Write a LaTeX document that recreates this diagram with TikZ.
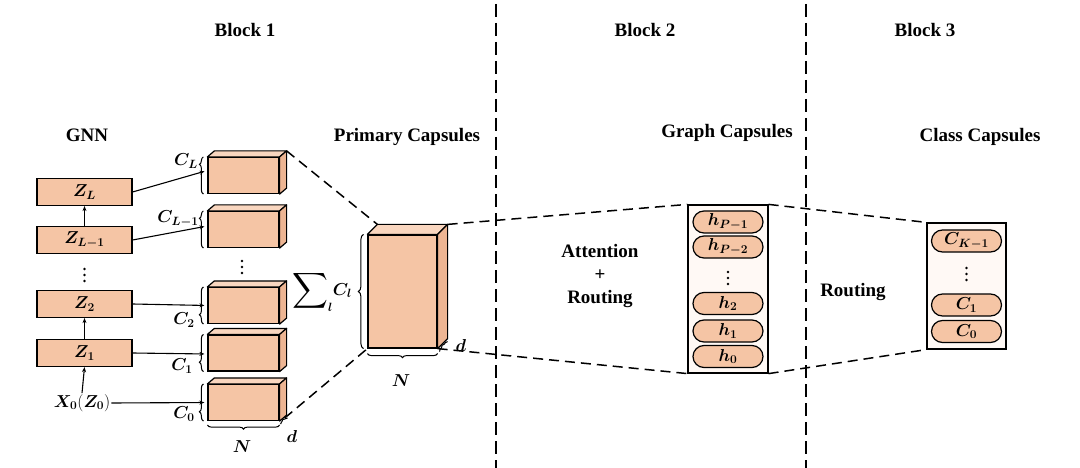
\documentclass[tikz,border=0pt]{standalone}
\usepackage{amsmath}
\usepackage{fontspec}
\setmainfont{Liberation Serif}
\usepackage{bm}
\usetikzlibrary{calc,decorations.pathreplacing,shapes.misc,arrows.meta}

\definecolor{peach}{HTML}{F5C5A5}
\definecolor{peachtop}{HTML}{F9D6BF}
\definecolor{peachside}{HTML}{EDB593}
\definecolor{capfill}{HTML}{FFF9F5}

\tikzset{
  title/.style={font=\fontsize{19}{23}\selectfont\bfseries},
  mlabel/.style={font=\fontsize{18}{21}\selectfont, inner sep=1pt},
  zbox/.style={draw, line width=1.2pt, fill=peach, minimum width=95pt, minimum height=27pt, inner sep=0pt, font=\fontsize{18}{21}\selectfont},
  face/.style={draw, line width=1.2pt, fill=peach, minimum width=71pt, minimum height=36pt, inner sep=0pt},
  bigface/.style={face, minimum width=69pt, minimum height=113pt},
  topface/.style={draw, line width=1.2pt, fill=peachtop, line join=round},
  sideface/.style={draw, line width=1.2pt, fill=peachside, line join=round},
  pill/.style={draw, line width=1.2pt, fill=peach, rounded rectangle, minimum width=70pt, minimum height=22pt, inner sep=0pt, font=\fontsize{18}{21}\selectfont},
  capbox/.style={draw, line width=1.2pt, fill=capfill, inner sep=0pt},
  conn/.style={line width=1.1pt, -{Stealth[length=5pt,width=4pt]}},
  zoomline/.style={line width=1.5pt, dash pattern=on 10pt off 6pt},
  sepline/.style={line width=1.8pt, dash pattern=on 13pt off 6pt},
  brc/.style={decorate, decoration={brace, amplitude=#1}, line width=1pt},
  brc/.default=4pt,
}

\newcommand\mycube[3]{%
  \draw[topface] (#1.north west) -- ++(#2,-#3) -- ($(#1.north east)+(#2,-#3)$) -- (#1.north east) -- cycle;
  \draw[sideface] (#1.north east) -- ++(#2,-#3) -- ($(#1.south east)+(#2,-#3)$) -- (#1.south east) -- cycle;
}
\newcommand\mydots[2]{%
  \fill (#1,#2-6) circle (1.4pt);
  \fill (#1,#2) circle (1.4pt);
  \fill (#1,#2+6) circle (1.4pt);
}

\begin{document}
\begin{tikzpicture}[x=1pt,y=-1pt]
\fill[white] (0,0) rectangle (1080,468);
\useasboundingbox (0,0) rectangle (1080,468);

% separators
\draw[sepline] (496,4) -- (496,468);
\draw[sepline] (806,4) -- (806,468);

% titles
\node[title] (b1) at (245,30) {Block 1};
\node[title] (b2) at (645,30) {Block 2};
\node[title] (b3) at (925,30) {Block 3};
\node[title] (tgnn) at (87,135) {GNN};
\node[title] (tprim) at (407,137) {Primary Capsules};
\node[title] (tgraph) at (727,133) {Graph Capsules};
\node[title] (tclass) at (980,137) {Class Capsules};

% GNN boxes
\node[zbox] (zL) at (84.5,192) {$\bm{Z}_{\bm{L}}$};
\node[zbox] (zL1) at (84.5,240) {$\bm{Z}_{\bm{L-1}}$};
\mydots{84.5}{275}
\node[zbox] (z2) at (84.5,304) {$\bm{Z}_{\bm{2}}$};
\node[zbox] (z1) at (84.5,353) {$\bm{Z}_{\bm{1}}$};
\node[mlabel] (x0) at (82,403) {$\bm{X}_{\bm{0}}(\bm{Z}_{\bm{0}})$};

\draw[conn] (zL1.north) -- (zL.south);
\draw[conn] (z1.north) -- (z2.south);
\draw[conn] (x0.north) -- (z1.south);

% cubes
\node[face] (cL) at (243.5,175.5) {};
\node[face] (cL1) at (243.5,229.5) {};
\mydots{242}{267}
\node[face] (c2) at (243.5,305.5) {};
\node[face] (c1) at (243.5,353) {};
\node[face] (c0) at (243.5,402.5) {};
\mycube{cL}{7}{6}
\mycube{cL1}{7}{6}
\mycube{c2}{7}{6}
\mycube{c1}{7}{6}
\mycube{c0}{7}{6}

% connectors
\draw[conn, shorten >=3pt] (zL.east) -- ([yshift=5pt]cL.west);
\draw[conn, shorten >=3pt] (zL1.east) -- ([yshift=3.5pt]cL1.west);
\draw[conn, shorten >=3pt] (z2.east) -- (c2.west);
\draw[conn, shorten >=3pt] (z1.east) -- ([yshift=-1pt]c1.west);
\draw[conn, shorten >=3pt] (x0.east) -- (c0.west);

% braces for C_l
\draw[brc, decoration={aspect=0.8}] ([xshift=-4pt]cL.south west) -- ([xshift=-4pt]cL.north west);
\draw[brc, decoration={aspect=0.8}] ([xshift=-4pt]cL1.south west) -- ([xshift=-4pt]cL1.north west);
\draw[brc, decoration={aspect=0.25}] ([xshift=-4pt]c2.south west) -- ([xshift=-4pt]c2.north west);
\draw[brc, decoration={aspect=0.25}] ([xshift=-4pt]c1.south west) -- ([xshift=-4pt]c1.north west);
\draw[brc, decoration={aspect=0.25}] ([xshift=-4pt]c0.south west) -- ([xshift=-4pt]c0.north west);
\node[mlabel] (lL) at (186,161) {$\bm{C}_{\bm{L}}$};
\node[mlabel] (lL1) at (178,219) {$\bm{C}_{\bm{L-1}}$};
\node[mlabel] (l2) at (184,320) {$\bm{C}_{\bm{2}}$};
\node[mlabel] (l1) at (182,366) {$\bm{C}_{\bm{1}}$};
\node[mlabel] (l0) at (184,414) {$\bm{C}_{\bm{0}}$};

% N and d for small cube
\draw[brc] ([yshift=-4pt]c0.south east) -- ([yshift=-4pt]c0.south west);
\node[mlabel] (n1) at (242,447) {$\bm{N}$};
\draw[brc=2pt] ($(c0.south east)+(1,3)$) -- ($(c0.south east)+(8,-3)$);
\node[mlabel] (d1) at (292,436) {$\bm{d}$};

% primary capsule
\node[bigface] (p) at (402.5,291.5) {};
\mycube{p}{10}{10}
\draw[brc=5pt] ([xshift=-4pt]p.south west) -- ([xshift=-4pt]p.north west);
\node[font=\fontsize{18}{21}\selectfont, inner sep=1pt] (sum) at (322,291) {$\vcenter{\hbox{\fontsize{27}{30}\selectfont$\displaystyle\sum$}}_{\bm{l}}\bm{C}_{\bm{l}}$};
\draw[brc] ([yshift=-5pt]p.south east) -- ([yshift=-5pt]p.south west);
\node[mlabel] (n2) at (401,381) {$\bm{N}$};
\draw[brc=2pt] ($(p.south east)+(2,3)$) -- ($(p.south east)+(10,-7)$);
\node[mlabel] (d2) at (461,345) {$\bm{d}$};

\draw[zoomline] ($(cL.north east)+(7,-6)$) -- ($(p.north west)+(10,-10)$);
\draw[zoomline] ($(c0.south east)+(5,-3)$) -- (p.south west);

% graph capsules
\node[capbox, minimum width=80pt, minimum height=168pt] (g) at (728,289) {};
\node[pill] (hP1) at (728,222) {$\bm{h}_{\bm{P-1}}$};
\node[pill] (hP2) at (728,247) {$\bm{h}_{\bm{P-2}}$};
\mydots{728}{278}
\node[pill] (h2) at (728,303.5) {$\bm{h}_{\bm{2}}$};
\node[pill] (h1) at (728,331) {$\bm{h}_{\bm{1}}$};
\node[pill] (h0) at (728,356.5) {$\bm{h}_{\bm{0}}$};

\draw[zoomline] ($(p.north east)+(10,-10)$) -- (g.north west);
\draw[zoomline] (p.south east) -- (g.south west);

\node[title, align=center] (att) at (600,276) {Attention\\+\\Routing};

% class capsules
\node[capbox, minimum width=79pt, minimum height=126pt] (k) at (966.5,286) {};
\node[pill] (cK1) at (966.5,241) {$\bm{C}_{\bm{K-1}}$};
\mydots{966.5}{274}
\node[pill] (k1) at (966.5,305) {$\bm{C}_{\bm{1}}$};
\node[pill] (k0) at (966.5,331.5) {$\bm{C}_{\bm{0}}$};

\draw[zoomline] (g.north east) -- (k.north west);
\draw[zoomline] (g.south east) -- (k.south west);

\node[title] (rt) at (853,292) {Routing};
\end{tikzpicture}
\end{document}
